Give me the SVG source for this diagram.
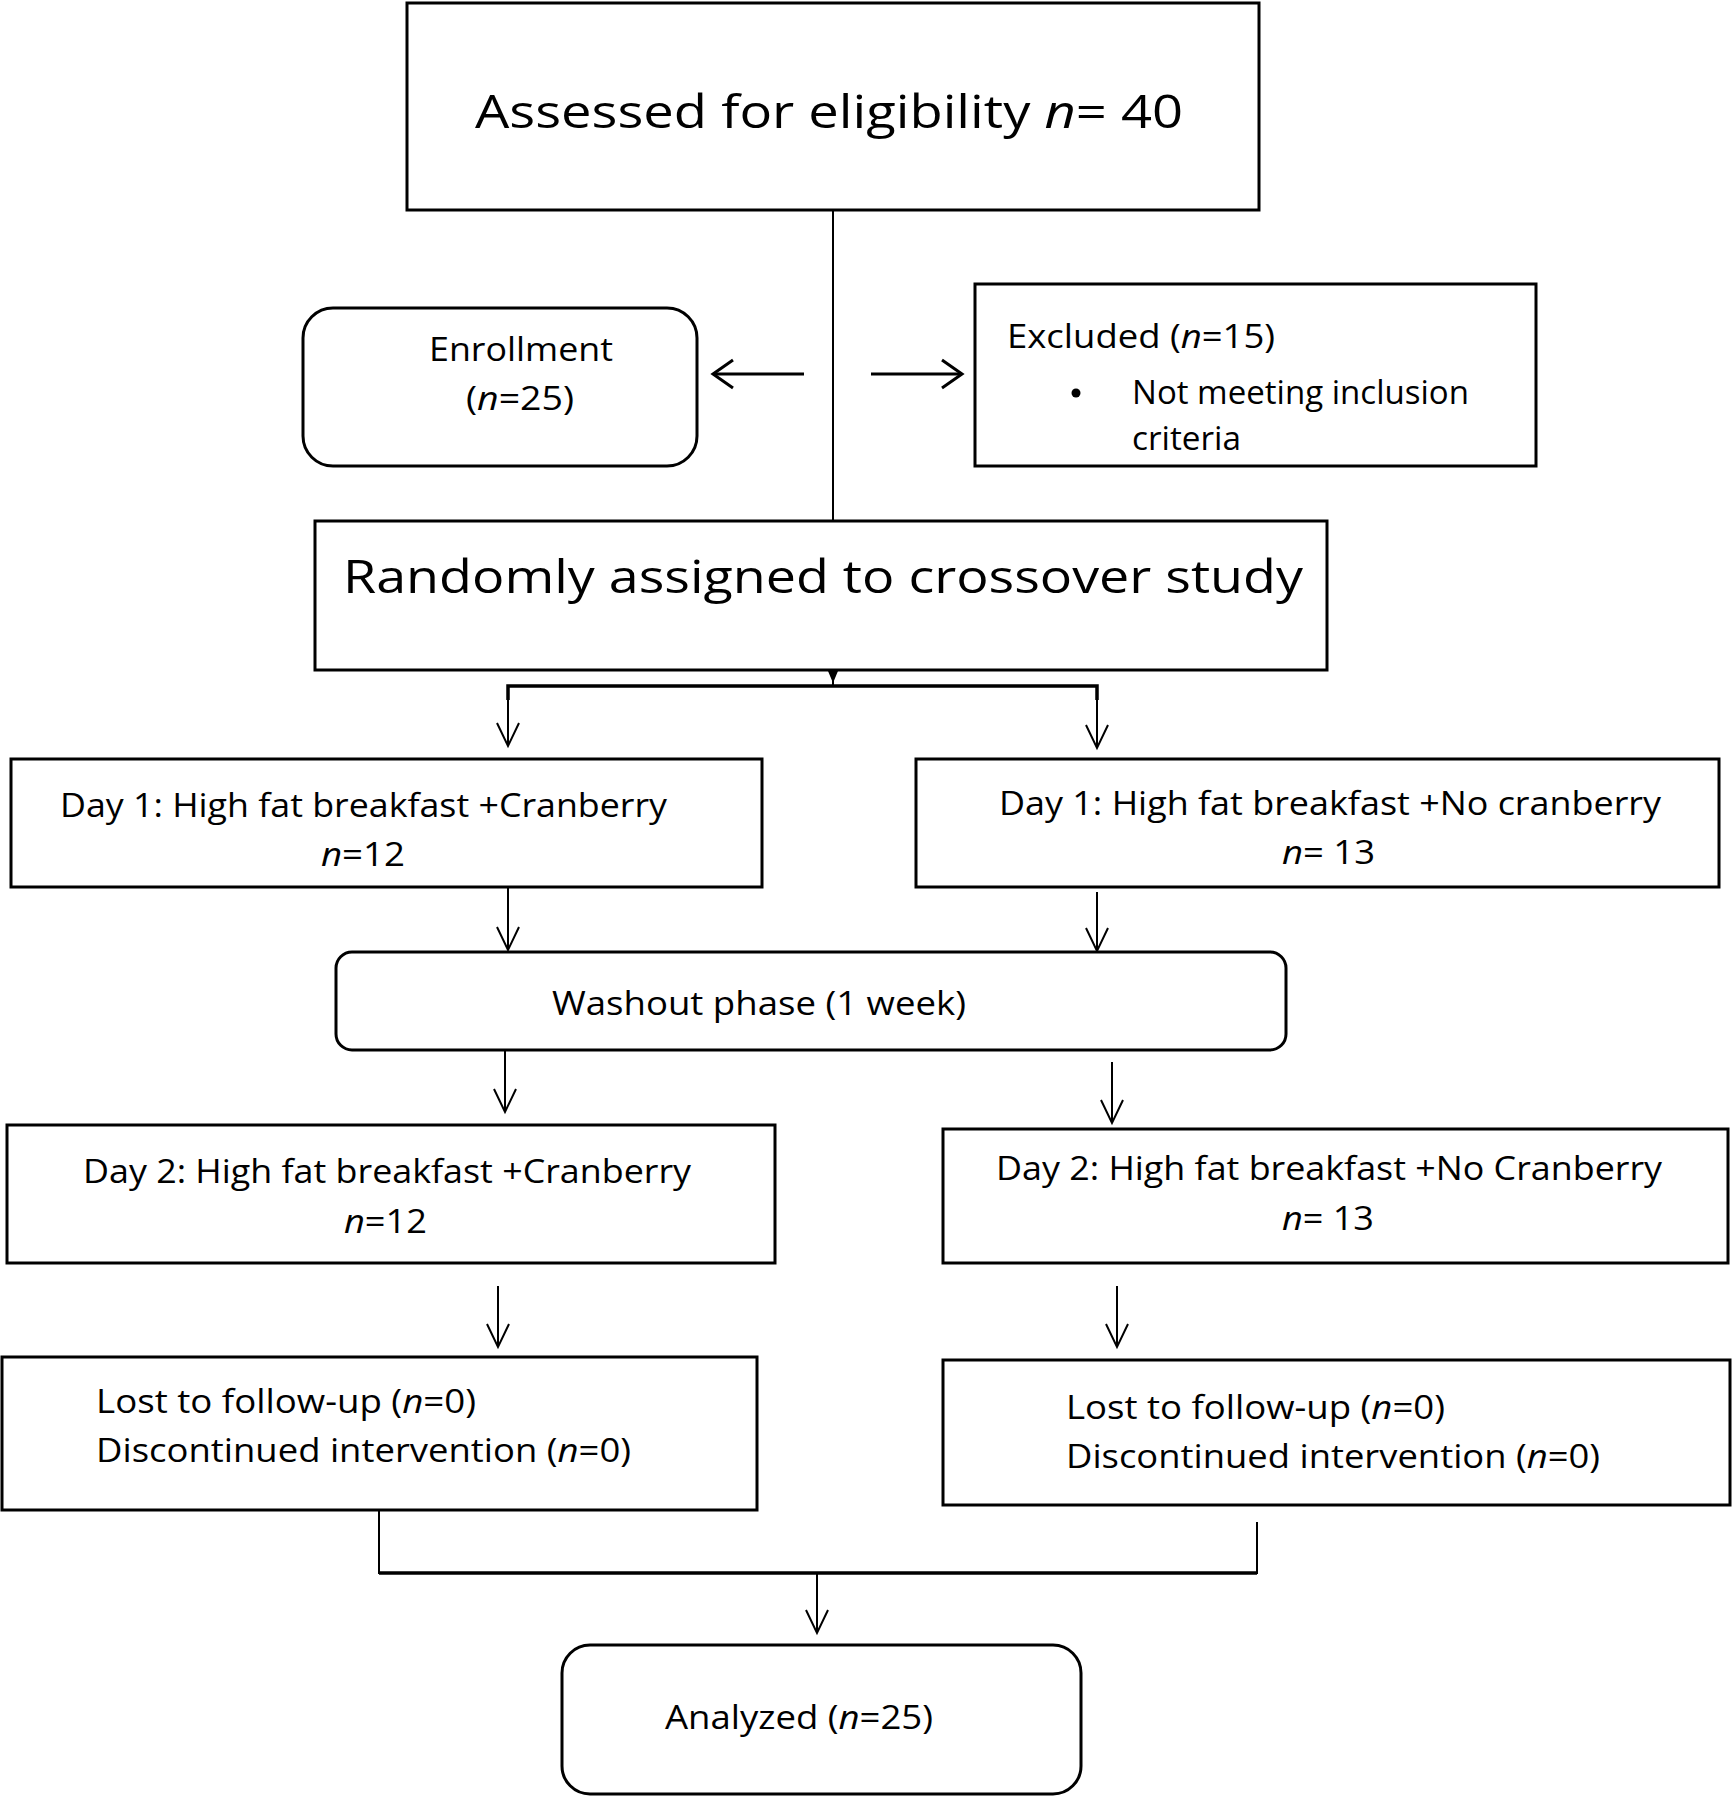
<svg xmlns="http://www.w3.org/2000/svg" width="1733" height="1800" viewBox="0 0 1733 1800">
<style>
.box{fill:#fff;stroke:#000;stroke-width:3}
.ln{fill:none;stroke:#000;stroke-width:2}
.hl{fill:none;stroke:#000;stroke-width:3}
.thk{fill:none;stroke:#000;stroke-width:3.5}
text{font-family:"Open Sans","Noto Sans","Liberation Sans",sans-serif;fill:#000}
.big{font-size:46px}
.md{font-size:32px}
.it{font-style:italic}
</style>
<defs>
<marker id="ah" markerUnits="userSpaceOnUse" markerWidth="34" markerHeight="34" viewBox="-28 -17 34 34" refX="0" refY="0" orient="auto" overflow="visible">
<path d="M-23,-11 L0,0 L-23,11" fill="none" stroke="#000" stroke-width="2"/>
</marker>
<marker id="ahh" markerUnits="userSpaceOnUse" markerWidth="34" markerHeight="34" viewBox="-28 -17 34 34" refX="0" refY="0" orient="auto" overflow="visible">
<path d="M-20,-14 L0,0 L-20,14" fill="none" stroke="#000" stroke-width="3"/>
</marker>
</defs>
<rect width="1733" height="1800" fill="#fff"/>
<g id="connectors">
<line class="ln" x1="833" y1="210" x2="833" y2="521"/>
<line class="hl" x1="804" y1="374" x2="713" y2="374" marker-end="url(#ahh)"/>
<line class="hl" x1="871" y1="374" x2="962" y2="374" marker-end="url(#ahh)"/>
<polygon points="828,671 838,671 833,683" fill="#000"/>
<line class="ln" x1="833" y1="670" x2="833" y2="686"/>
<polyline class="thk" points="508,700 508,686 1097,686 1097,700"/>
<line class="ln" x1="508" y1="686" x2="508" y2="746" marker-end="url(#ah)"/>
<line class="ln" x1="1097" y1="686" x2="1097" y2="748" marker-end="url(#ah)"/>
<line class="ln" x1="508" y1="887" x2="508" y2="950" marker-end="url(#ah)"/>
<line class="ln" x1="1097" y1="892" x2="1097" y2="951" marker-end="url(#ah)"/>
<line class="ln" x1="505" y1="1050" x2="505" y2="1112" marker-end="url(#ah)"/>
<line class="ln" x1="1112" y1="1062" x2="1112" y2="1123" marker-end="url(#ah)"/>
<line class="ln" x1="498" y1="1286" x2="498" y2="1347" marker-end="url(#ah)"/>
<line class="ln" x1="1117" y1="1286" x2="1117" y2="1347" marker-end="url(#ah)"/>
<polyline class="ln" points="379,1510 379,1573 1257,1573 1257,1522"/>
<line class="thk" x1="379" y1="1573" x2="1257" y2="1573"/>
<line class="ln" x1="817" y1="1573" x2="817" y2="1633" marker-end="url(#ah)"/>
</g>
<g id="assessed">
<rect class="box" x="407" y="3" width="852" height="207"/>
<text class="big" x="475" y="128" textLength="708" lengthAdjust="spacingAndGlyphs">Assessed for eligibility <tspan class="it">n</tspan>= 40</text>
</g>
<g id="enrollment">
<rect class="box" x="303" y="308" width="394" height="158" rx="30"/>
<text class="md" x="429" y="361" textLength="184" lengthAdjust="spacingAndGlyphs">Enrollment</text>
<text class="md" x="466" y="410" textLength="108" lengthAdjust="spacingAndGlyphs">(<tspan class="it">n</tspan>=25)</text>
</g>
<g id="excluded">
<rect class="box" x="975" y="284" width="561" height="182"/>
<text class="md" x="1007" y="348" textLength="268" lengthAdjust="spacingAndGlyphs">Excluded (<tspan class="it">n</tspan>=15)</text>
<circle cx="1076" cy="393" r="4.5" fill="#000"/>
<text class="md" x="1132" y="404" textLength="337" lengthAdjust="spacingAndGlyphs">Not meeting inclusion</text>
<text class="md" x="1132" y="450" textLength="109" lengthAdjust="spacingAndGlyphs">criteria</text>
</g>
<g id="randomized">
<rect class="box" x="315" y="521" width="1012" height="149"/>
<text class="big" x="343" y="593" textLength="960" lengthAdjust="spacingAndGlyphs">Randomly assigned to crossover study</text>
</g>
<g id="day1-cranberry">
<rect class="box" x="11" y="759" width="751" height="128"/>
<text class="md" x="60" y="817" textLength="607" lengthAdjust="spacingAndGlyphs">Day 1: High fat breakfast +Cranberry</text>
<text class="md" x="321" y="866" textLength="84" lengthAdjust="spacingAndGlyphs"><tspan class="it">n</tspan>=12</text>
</g>
<g id="day1-nocranberry">
<rect class="box" x="916" y="759" width="803" height="128"/>
<text class="md" x="999" y="815" textLength="662" lengthAdjust="spacingAndGlyphs">Day 1: High fat breakfast +No cranberry</text>
<text class="md" x="1282" y="864" textLength="93" lengthAdjust="spacingAndGlyphs"><tspan class="it">n</tspan>= 13</text>
</g>
<g id="washout">
<rect class="box" x="336" y="952" width="950" height="98" rx="16"/>
<text class="md" x="552" y="1015" textLength="414" lengthAdjust="spacingAndGlyphs">Washout phase (1 week)</text>
</g>
<g id="day2-cranberry">
<rect class="box" x="7" y="1125" width="768" height="138"/>
<text class="md" x="83" y="1183" textLength="608" lengthAdjust="spacingAndGlyphs">Day 2: High fat breakfast +Cranberry</text>
<text class="md" x="344" y="1233" textLength="83" lengthAdjust="spacingAndGlyphs"><tspan class="it">n</tspan>=12</text>
</g>
<g id="day2-nocranberry">
<rect class="box" x="943" y="1129" width="785" height="134"/>
<text class="md" x="996" y="1180" textLength="666" lengthAdjust="spacingAndGlyphs">Day 2: High fat breakfast +No Cranberry</text>
<text class="md" x="1282" y="1230" textLength="92" lengthAdjust="spacingAndGlyphs"><tspan class="it">n</tspan>= 13</text>
</g>
<g id="lost-left">
<rect class="box" x="2" y="1357" width="755" height="153"/>
<text class="md" x="96" y="1413" textLength="380" lengthAdjust="spacingAndGlyphs">Lost to follow-up (<tspan class="it">n</tspan>=0)</text>
<text class="md" x="96" y="1462" textLength="535" lengthAdjust="spacingAndGlyphs">Discontinued intervention (<tspan class="it">n</tspan>=0)</text>
</g>
<g id="lost-right">
<rect class="box" x="943" y="1360" width="787" height="145"/>
<text class="md" x="1066" y="1419" textLength="379" lengthAdjust="spacingAndGlyphs">Lost to follow-up (<tspan class="it">n</tspan>=0)</text>
<text class="md" x="1066" y="1468" textLength="534" lengthAdjust="spacingAndGlyphs">Discontinued intervention (<tspan class="it">n</tspan>=0)</text>
</g>
<g id="analyzed">
<rect class="box" x="562" y="1645" width="519" height="149" rx="28"/>
<text class="md" x="665" y="1729" textLength="268" lengthAdjust="spacingAndGlyphs">Analyzed (<tspan class="it">n</tspan>=25)</text>
</g>
</svg>
